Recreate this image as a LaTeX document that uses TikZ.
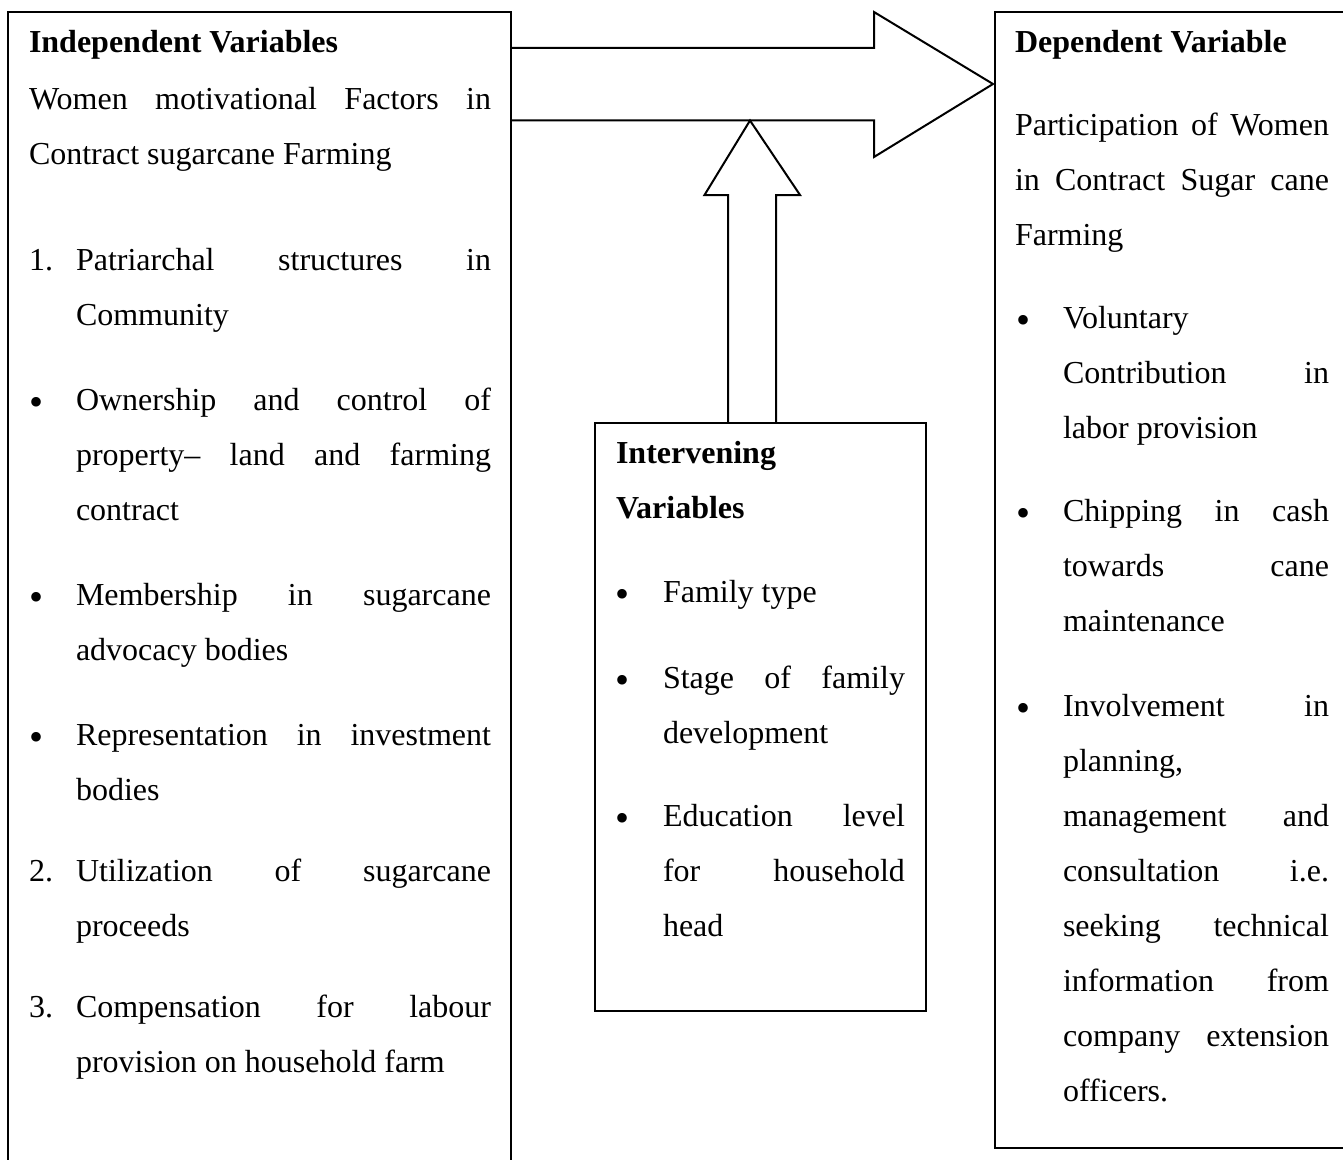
\documentclass[tikz,border=0pt]{standalone}
\usepackage{fontspec}
\setmainfont{Liberation Serif}
\newdimen\px \px=0.375pt
\newcommand{\jl}[2]{\makebox[#1\px][s]{#2}}
\newcommand{\bul}{\raisebox{-5\px}{\fontsize{15pt}{15pt}\selectfont •}}
\tikzset{
  txt/.style={inner sep=0pt, outer sep=0pt, anchor=base west, font=\fontsize{12pt}{20.625pt}\selectfont},
  boxst/.style={draw, line width=0.75pt, inner sep=0pt, outer sep=0pt, anchor=north west},
  blk/.style={draw, line width=0.75pt, line join=miter}
}
\begin{document}
\begin{tikzpicture}[x=0.375pt, y=-0.375pt]
\useasboundingbox (0,0) rectangle (1343,1159);
\clip (0,0) rectangle (1343,1159);
% boxes
\node[boxst, minimum width=503\px, minimum height=1200\px] (indep) at (8,12) {};
\node[boxst, minimum width=360\px, minimum height=1136\px] (dep) at (995,12) {};
\node[boxst, minimum width=331\px, minimum height=588\px] (interv) at (595,423) {};
% big arrow to dependent
\coordinate (aT) at (indep.east |- 0,48);
\coordinate (aB) at (indep.east |- 0,120.5);
\coordinate (tip) at (993,84);
\draw[blk] (aT) -- (874,48) -- (874,12) -- (tip) -- (874,157) -- (874,120.5) -- (aB);
% up arrow from intervening
\coordinate (uL) at (interv.north -| 728,0);
\coordinate (uR) at (interv.north -| 776,0);
\coordinate (utip) at (750,120.5);
\draw[blk] (uL) -- (728,195) -- (704.5,195) -- (utip) -- (800,195) -- (776,195) -- (uR);
% left box text
\node[txt] (hI) at (29,53) {\textbf{Independent Variables}};
\node[txt] (pW) at (29,110) {\parbox[t]{462\px}{\jl{462}{Women motivational Factors in}\\Contract sugarcane Farming}};
\node[txt] (n1) at (29,270) {1.};
\node[txt] (i1) at (76,270) {\parbox[t]{415\px}{\jl{415}{Patriarchal structures in}\\Community}};
\node[txt] (b1) at (29,410) {\bul};
\node[txt] (i2) at (76,410) {\parbox[t]{415\px}{\jl{415}{Ownership and control of}\\\jl{415}{property– land and farming}\\contract}};
\node[txt] (b2) at (29,605) {\bul};
\node[txt] (i3) at (76,605) {\parbox[t]{415\px}{\jl{415}{Membership in sugarcane}\\advocacy bodies}};
\node[txt] (b3) at (29,745) {\bul};
\node[txt] (i4) at (76,745) {\parbox[t]{415\px}{\jl{415}{Representation in investment}\\bodies}};
\node[txt] (n2) at (29,881) {2.};
\node[txt] (i5) at (76,881) {\parbox[t]{415\px}{\jl{415}{Utilization of sugarcane}\\proceeds}};
\node[txt] (n3) at (29,1017) {3.};
\node[txt] (i6) at (76,1017) {\parbox[t]{415\px}{\jl{415}{Compensation for labour}\\provision on household farm}};
% middle box text
\node[txt] (hV) at (616,463) {\parbox[t]{290\px}{\textbf{Intervening}\\\textbf{Variables}}};
\node[txt] (mb1) at (615,602) {\bul};
\node[txt] (m1) at (663,602) {Family type};
\node[txt] (mb2) at (615,688) {\bul};
\node[txt] (m2) at (663,688) {\parbox[t]{242\px}{\jl{242}{Stage of family}\\development}};
\node[txt] (mb3) at (615,826) {\bul};
\node[txt] (m3) at (663,826) {\parbox[t]{242\px}{\jl{242}{Education level}\\\jl{242}{for household}\\head}};
% right box text
\node[txt] (hD) at (1015,53) {\textbf{Dependent Variable}};
\node[txt] (pP) at (1015,135) {\parbox[t]{314\px}{\jl{314}{Participation of Women}\\\jl{314}{in Contract Sugar cane}\\Farming}};
\node[txt] (rb1) at (1016,328) {\bul};
\node[txt] (r1) at (1063,328) {\parbox[t]{266\px}{Voluntary\\\jl{266}{Contribution in}\\labor provision}};
\node[txt] (rb2) at (1016,521) {\bul};
\node[txt] (r2) at (1063,521) {\parbox[t]{266\px}{\jl{266}{Chipping in cash}\\\jl{266}{towards cane}\\maintenance}};
\node[txt] (rb3) at (1016,716) {\bul};
\node[txt] (r3) at (1063,716) {\parbox[t]{266\px}{\jl{266}{Involvement in}\\planning,\\\jl{266}{management and}\\\jl{266}{consultation i.e.}\\\jl{266}{seeking technical}\\\jl{266}{information from}\\\jl{266}{company extension}\\officers.}};
\end{tikzpicture}
\end{document}
